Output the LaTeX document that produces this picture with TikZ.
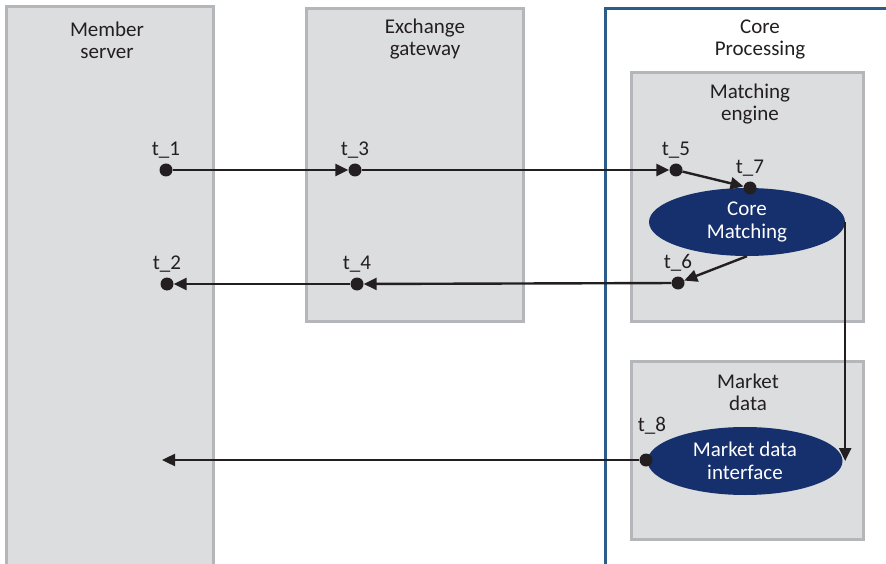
\documentclass[tikz,border=0pt]{standalone}
\usepackage{fontspec}
\setmainfont{Carlito}
\usepackage{xcolor}
\usetikzlibrary{arrows.meta,positioning,shapes.geometric}
\definecolor{ZoneGray}{HTML}{DCDDDF}
\definecolor{ZoneEdge}{HTML}{B5B6B9}
\definecolor{CoreBlue}{HTML}{2B5C8C}
\definecolor{EngineNavy}{HTML}{15306D}
\definecolor{InkDark}{HTML}{231F20}

\begin{document}
\begin{tikzpicture}[
  x=1pt, y=-1pt,
  zone/.style={draw=ZoneEdge, line width=3.4pt, fill=ZoneGray, anchor=north west, inner sep=0pt},
  core/.style={draw=CoreBlue, line width=3pt, anchor=north west, inner sep=0pt},
  title/.style={align=center, font=\fontsize{21}{22}\selectfont, text=InkDark, inner sep=0pt},
  engine/.style={ellipse, fill=EngineNavy, text=white, align=center, inner sep=0pt, font=\fontsize{21}{23}\selectfont},
  stamp/.style={circle, fill=InkDark, inner sep=0pt, minimum size=13pt},
  lab/.style={font=\fontsize{21}{22}\selectfont, text=InkDark, inner sep=0pt, yshift=5pt},
  arrow/.style={-{Triangle[length=13pt, width=12pt]}, line width=2.4pt, draw=InkDark}
]
  \useasboundingbox (0,0) rectangle (886,564);

  % zones
  \node[zone, minimum width=207pt, minimum height=575pt] (member) at (5,5) {};
  \node[zone, minimum width=217pt, minimum height=313pt] (gateway) at (305,7) {};
  \node[core, minimum width=290pt, minimum height=570pt] (coreproc) at (604,7) {};
  \node[zone, minimum width=232pt, minimum height=249pt] (matching) at (630,71) {};
  \node[zone, minimum width=232pt, minimum height=178pt] (mktdata) at (630,360) {};

  \node[title] (membertitle) at (107,40) {Member\\server};
  \node[title] (gatewaytitle) at (425,39) {Exchange\\gateway};
  \node[title] (coretitle) at (760,39) {Core\\Processing};
  \node[title] (matchingtitle) at (750,104) {Matching\\engine};
  \node[title] (mkttitle) at (748,392) {Market\\data};

  % engines
  \node[engine, minimum width=196pt, minimum height=68pt] (corematch) at (747,222) {Core\\Matching};
  \node[engine, minimum width=195pt, minimum height=68pt] (mdi) at (745,461) {Market data\\interface};

  % timestamps
  \node[stamp, label={[lab]above:t\_1}] (t1) at (166,170) {};
  \node[stamp, label={[lab]above:t\_3}] (t3) at (355,170) {};
  \node[stamp, label={[lab]above:t\_5}] (t5) at (676,170) {};
  \node[stamp, label={[lab]above:t\_7}] (t7) at (750,188) {};
  \node[stamp, label={[lab]above:t\_2}] (t2) at (167,284) {};
  \node[stamp, label={[lab]above:t\_4}] (t4) at (357,284) {};
  \node[stamp, label={[lab]above:t\_6}] (t6) at (678,283) {};
  \node[stamp, label={[lab,xshift=6pt,yshift=14pt]above:t\_8}] (t8) at (646,460) {};
  \coordinate (memberin) at (162,460);

  % flows
  \draw[arrow] (t1) -- (t3);
  \draw[arrow] (t3) -- (t5);
  \draw[arrow] (t5) -- (t7);
  \draw[arrow] (corematch.south) -- (t6);
  \draw[arrow] (t6) -- (t4);
  \draw[arrow] (t4) -- (t2);
  \draw[arrow] (corematch.east) -- (corematch.east |- mdi.east);
  \draw[arrow] (t8) -- (memberin);
\end{tikzpicture}
\end{document}
